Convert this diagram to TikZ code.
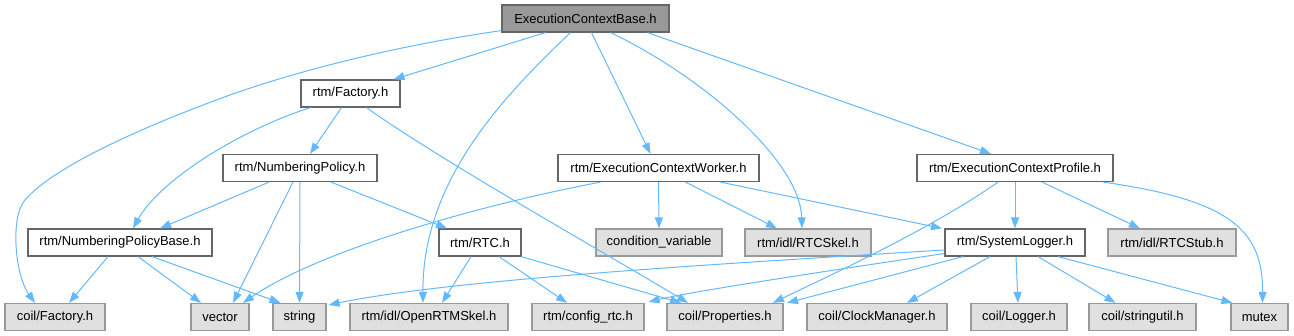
\documentclass[tikz,border=0pt]{standalone}
\usepackage{fontspec}
\setmainfont{Liberation Sans}
\usetikzlibrary{arrows.meta}
\definecolor{edgeblue}{HTML}{63B8FF}
\definecolor{boxborder}{HTML}{666666}
\definecolor{extborder}{HTML}{999999}
\definecolor{extfill}{HTML}{E0E0E0}
\definecolor{rootfill}{HTML}{999999}
\tikzset{
  box/.style={draw=boxborder, line width=1.2pt, fill=white, minimum height=27pt, inner sep=0pt, font=\fontsize{13}{15}\selectfont},
  extbox/.style={box, draw=extborder, fill=extfill},
  rootbox/.style={box, fill=rootfill},
  edge/.style={draw=edgeblue, line width=1pt, -{Triangle[length=11pt,width=8pt]}, fill=none},
}
\begin{document}
\begin{tikzpicture}[x=1pt,y=-1pt]
\useasboundingbox (0,0) rectangle (1294,336);
% nodes
\node[rootbox, minimum width=167pt] (root) at (585.5,18.5) {ExecutionContextBase.h};
\node[box, minimum width=99pt] (fac) at (350.5,93.5) {rtm/Factory.h};
\node[box, minimum width=154pt] (np) at (300,168) {rtm/NumberingPolicy.h};
\node[box, minimum width=201pt] (ecw) at (658.5,168) {rtm/ExecutionContextWorker.h};
\node[box, minimum width=196pt] (ecp) at (1015,168) {rtm/ExecutionContextProfile.h};
\node[box, minimum width=184pt] (npb) at (120,242.5) {rtm/NumberingPolicyBase.h};
\node[box, minimum width=82pt] (rtc) at (480,242.5) {rtm/RTC.h};
\node[extbox, minimum width=126pt] (cv) at (659,242.5) {condition\_variable};
\node[extbox, minimum width=126pt] (rtcskel) at (808,242.5) {rtm/idl/RTCSkel.h};
\node[box, minimum width=140pt] (syslog) at (1015,242.5) {rtm/SystemLogger.h};
\node[extbox, minimum width=128pt] (stub) at (1172,242.5) {rtm/idl/RTCStub.h};
\node[extbox, minimum width=100pt] (cfac) at (55,317) {coil/Factory.h};
\node[extbox, minimum width=58pt] (vec) at (220,317) {vector};
\node[extbox, minimum width=53pt] (str) at (299.5,317) {string};
\node[extbox, minimum width=158pt] (orskel) at (429,317) {rtm/idl/OpenRTMSkel.h};
\node[extbox, minimum width=112pt] (cfg) at (588,317) {rtm/config\_rtc.h};
\node[extbox, minimum width=116pt] (prop) at (725,317) {coil/Properties.h};
\node[extbox, minimum width=140pt] (clock) at (877,317) {coil/ClockManager.h};
\node[extbox, minimum width=96pt] (logger) at (1019,317) {coil/Logger.h};
\node[extbox, minimum width=107pt] (strutil) at (1142.5,317) {coil/stringutil.h};
\node[extbox, minimum width=57pt] (mutex) at (1259.5,317) {mutex};
% edges from root
\draw[edge] ([yshift=2pt]root.south west) .. controls (400,45) and (300,70) .. (230,95) .. controls (150,124) and (55,165) .. (25,200) .. controls (10,217) and (15,275) .. ([xshift=-20pt]cfac.north);
\draw[edge] ([xshift=-40pt]root.south) -- ([xshift=43pt]fac.north);
\draw[edge] ([xshift=-15pt]root.south) .. controls (505,95) and (422,180) .. ([xshift=-6pt]orskel.north);
\draw[edge] ([xshift=6pt]root.south) -- ([xshift=-8pt]ecw.north);
\draw[edge] ([xshift=25pt]root.south) .. controls (700,75) and (800,160) .. ([xshift=-6pt]rtcskel.north);
\draw[edge] ([xshift=62pt]root.south) -- ([xshift=-24pt]ecp.north);
% from rtm/Factory.h
\draw[edge] ([xshift=-40pt]fac.south) .. controls (240,130) and (160,180) .. ([xshift=13pt]npb.north);
\draw[edge] ([xshift=-9pt]fac.south) -- ([xshift=10pt]np.north);
\draw[edge] ([xshift=16pt]fac.south) .. controls (440,160) and (600,250) .. ([xshift=-37pt]prop.north);
% from rtm/NumberingPolicy.h
\draw[edge] ([xshift=-31pt]np.south) -- ([xshift=40pt]npb.north);
\draw[edge] ([xshift=-7pt]np.south) -- ([xshift=13pt]vec.north);
\draw[edge] (np.south) -- (str.north);
\draw[edge] ([xshift=31pt]np.south) -- ([xshift=-33pt]rtc.north);
% from rtm/NumberingPolicyBase.h
\draw[edge] ([xshift=-12pt]npb.south) -- ([xshift=14pt]cfac.north);
\draw[edge] ([xshift=18pt]npb.south) -- ([xshift=-19pt]vec.north);
\draw[edge] ([xshift=32pt]npb.south) -- ([xshift=-19pt]str.north);
% from rtm/RTC.h
\draw[edge] ([xshift=-9pt]rtc.south) -- ([xshift=13pt]orskel.north);
\draw[edge] ([xshift=19pt]rtc.south) -- ([xshift=-21pt]cfg.north);
\draw[edge] ([xshift=41pt]rtc.south) -- ([xshift=-44pt]prop.north);
% from rtm/ExecutionContextWorker.h
\draw[edge] ([xshift=-58pt]ecw.south) .. controls (480,205) and (320,250) .. ([xshift=23pt]vec.north);
\draw[edge] (ecw.south) -- (cv.north);
\draw[edge] ([xshift=27pt]ecw.south) -- ([xshift=-31pt]rtcskel.north);
\draw[edge] ([xshift=62pt]ecw.south) -- ([xshift=-73pt]syslog.north);
% from rtm/ExecutionContextProfile.h
\draw[edge] ([xshift=-17pt]ecp.south) .. controls (930,230) and (820,280) .. ([xshift=48pt]prop.north);
\draw[edge] (ecp.south) -- (syslog.north);
\draw[edge] ([xshift=27pt]ecp.south) -- ([xshift=-32pt]stub.north);
\draw[edge] ([xshift=88pt]ecp.south) .. controls (1230,200) and (1263,230) .. ([xshift=3pt]mutex.north);
% from rtm/SystemLogger.h
\draw[edge] ([yshift=-7.5pt]syslog.west) .. controls (700,265) and (450,280) .. ([xshift=2pt,yshift=-2pt]str.north east);
\draw[edge] ([yshift=-11pt]syslog.west) .. controls (800,275) and (690,292) .. ([xshift=4pt,yshift=1pt]cfg.north east);
\draw[edge] ([xshift=-52pt]syslog.south) -- ([xshift=62pt]prop.north);
\draw[edge] ([xshift=-25pt]syslog.south) -- ([xshift=30pt]clock.north);
\draw[edge] ([xshift=1pt]syslog.south) -- ([xshift=-1pt]logger.north);
\draw[edge] ([xshift=23pt]syslog.south) -- ([xshift=-27pt]strutil.north);
\draw[edge] ([xshift=43pt]syslog.south) -- ([xshift=2pt]mutex.north west);
\end{tikzpicture}
\end{document}
